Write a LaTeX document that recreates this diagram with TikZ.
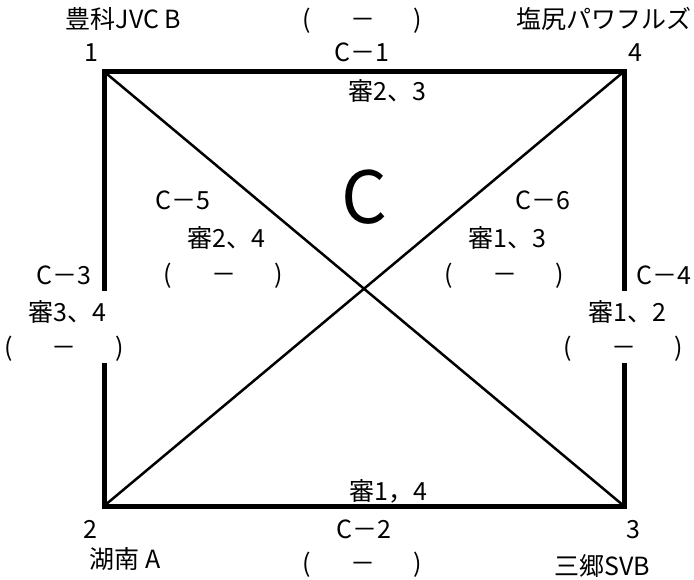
\documentclass[tikz,border=0pt]{standalone}
\usepackage{fontspec}
\setmainfont{Noto Sans CJK JP}
\newcommand{\score}{(\hspace{0.55em}　－　\hspace{0.55em})}

\begin{document}
\begin{tikzpicture}[x=1pt, y=-1pt,
    lbl/.style={font=\fontsize{25}{25}\selectfont, anchor=base, inner sep=0pt},
    frame/.style={line width=5pt, line join=miter},
    diag/.style={line width=2.5pt}]
    \useasboundingbox (0,0) rectangle (694,580);

    % Corners of the court
    \coordinate (v1) at (104,71.5);
    \coordinate (v4) at (624,71.5);
    \coordinate (v2) at (104,506);
    \coordinate (v3) at (624,506);
    % Gaps in the side lines
    \coordinate (l1) at (104,291);
    \coordinate (l2) at (104,363);
    \coordinate (r1) at (624,291);
    \coordinate (r2) at (624,363);

    % Lines
    \draw[frame] (l1) -- (v1) -- (v4) -- (r1);
    \draw[frame] (l2) -- (v2) -- (v3) -- (r2);
    \draw[diag] (v1) -- (v3);
    \draw[diag] (v2) -- (v4);

    % Teams
    \node[lbl] (t1) at (123.5,28.5) {豊科JVC B};
    \node[lbl] (t4) at (604,28.5) {塩尻パワフルズ};
    \node[lbl] (t2) at (125,568) {湖南 A};
    \node[lbl] (t3) at (602,575) {三郷SVB};

    % Numbers
    \node[lbl] (n1) at (91,62) {1};
    \node[lbl] (n4) at (635,62) {4};
    \node[lbl] (n2) at (90.5,538) {2};
    \node[lbl] (n3) at (633.5,538) {3};

    % Matches
    \node[lbl] (c1) at (361.5,62) {C－1};
    \node[lbl] (c2) at (364,538) {C－2};
    \node[lbl] (c3) at (64,285) {C－3};
    \node[lbl] (c4) at (663.5,285) {C－4};
    \node[lbl] (c5) at (182.5,210) {C－5};
    \node[lbl] (c6) at (543,210) {C－6};

    % Referees
    \node[lbl] (s1) at (387,101) {審2、3};
    \node[lbl] (s2) at (388.5,500) {審1，4};
    \node[lbl] (s3) at (67.5,322) {審3、4};
    \node[lbl] (s4) at (627,322) {審1、2};
    \node[lbl] (s5) at (226.5,248) {審2、4};
    \node[lbl] (s6) at (507.5,248) {審1、3};

    % Scores
    \node[lbl] (p1) at (362.5,28.5) {\score};
    \node[lbl] (p2) at (362.5,572) {\score};
    \node[lbl] (p3) at (64.5,356) {\score};
    \node[lbl] (p4) at (623.5,356) {\score};
    \node[lbl] (p5) at (223.5,284) {\score};
    \node[lbl] (p6) at (504.5,284) {\score};

    % Group
    \node[lbl, font=\fontsize{72}{72}\selectfont] (grp) at (364.5,224) {C};
\end{tikzpicture}
\end{document}
